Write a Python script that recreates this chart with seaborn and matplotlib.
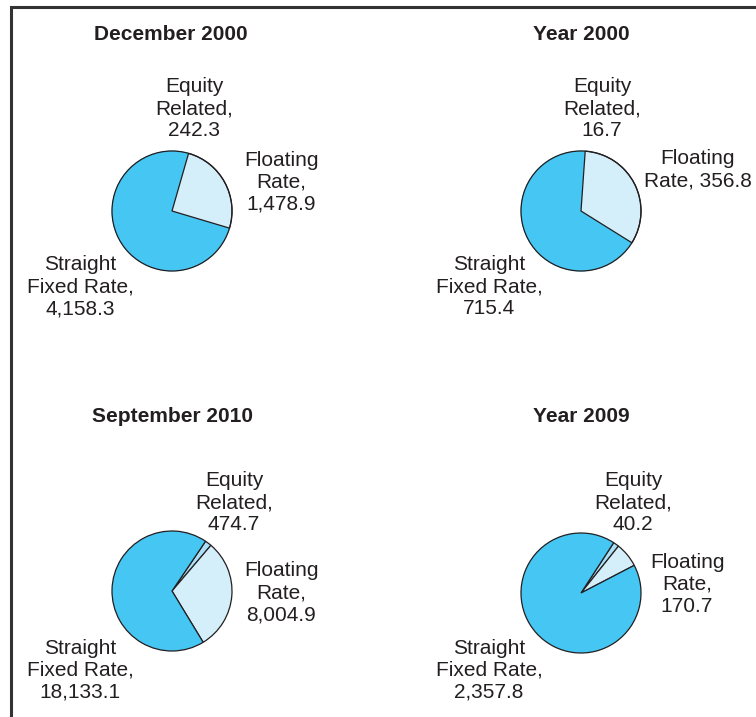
import numpy as np
import matplotlib.pyplot as plt
from matplotlib.patches import Circle
import seaborn as sns

# Bond issuance by type (values as printed on the chart)
titles = ['December 2000', 'Year 2000', 'September 2010', 'Year 2009']
categories = ['Equity Related', 'Floating Rate', 'Straight Fixed Rate']
equity = [242.3, 16.7, 474.7, 40.2]
floating = [1478.9, 356.8, 8004.9, 170.7]
straight = [4158.3, 715.4, 18133.1, 2357.8]

equity_labels = ['Equity\nRelated,\n242.3', 'Equity\nRelated,\n16.7',
                 'Equity\nRelated,\n474.7', 'Equity\nRelated,\n40.2']
floating_labels = ['Floating\nRate,\n1,478.9', 'Floating\nRate, 356.8',
                   'Floating\nRate,\n8,004.9', 'Floating\nRate,\n170.7']
straight_labels = ['Straight\nFixed Rate,\n4,158.3', 'Straight\nFixed Rate,\n715.4',
                   'Straight\nFixed Rate,\n18,133.1', 'Straight\nFixed Rate,\n2,357.8']

# layout, in pixels measured from the top-left corner
W, H = 756, 717
centers = [(172, 211), (581, 211), (172, 591), (581, 593)]
radius = 60
start_angles = [88.8, 91.5, 56, 57]
hide_equity = [True, True, False, False]
title_pos = [(171, 35), (581, 35), (172, 417), (581, 417)]
eq_pos = [(194, 109), (602, 109), (234, 503), (633, 503)]
fl_pos = [(281, 182), (698, 170), (281, 593), (687, 584)]
st_pos = [(80, 287), (489, 287), (80, 670), (489, 670)]

sns.set_style('white')
plt.rcParams['font.family'] = ['Liberation Sans', 'DejaVu Sans']

pal = sns.color_palette(['#a9e0f6', '#d4eefa', '#45c6f3'])
edge = '#231f20'
txt = '#231f20'

fig = plt.figure(figsize=(W / 100, H / 100), dpi=100)
ax = fig.add_axes([0, 0, 1, 1])


def fy(y):
    return H - y


for i in range(4):
    cx, cy = centers[i]
    vals = [equity[i], floating[i], straight[i]]
    cols = list(pal)
    if hide_equity[i]:
        cols[0] = pal[2]
    wedges, _ = ax.pie(vals, colors=cols, startangle=start_angles[i],
                       counterclock=False, center=(cx, fy(cy)), radius=radius,
                       frame=True,
                       wedgeprops=dict(edgecolor=edge, linewidth=0.9))
    if hide_equity[i]:
        # equity slice is not told apart in the 2000 panels
        for k in (0, 2):
            wedges[k].set_edgecolor(pal[2])
            wedges[k].set_linewidth(0.6)
        wedges[1].set_zorder(2)
        ax.add_patch(Circle((cx, fy(cy)), radius, fill=False, ec=edge, lw=0.9, zorder=3))

    ax.text(title_pos[i][0], fy(title_pos[i][1]), titles[i], ha='center', va='center',
            fontsize=15, fontweight='bold', color=txt)
    for pos, lab in [(eq_pos[i], equity_labels[i]), (fl_pos[i], floating_labels[i]),
                     (st_pos[i], straight_labels[i])]:
        ax.text(pos[0], fy(pos[1]), lab, ha='center', va='center', fontsize=15,
                color=txt, linespacing=1.2)

# outer frame (left and top border)
ax.plot([10.5, 10.5, W + 5], [-5, fy(6.5), fy(6.5)], color='#333333', lw=2.2,
        solid_joinstyle='miter', clip_on=False)

ax.set_xlim(0, W)
ax.set_ylim(0, H)
ax.set_aspect('equal')
ax.axis('off')

fig.savefig('out.png', dpi=100)
